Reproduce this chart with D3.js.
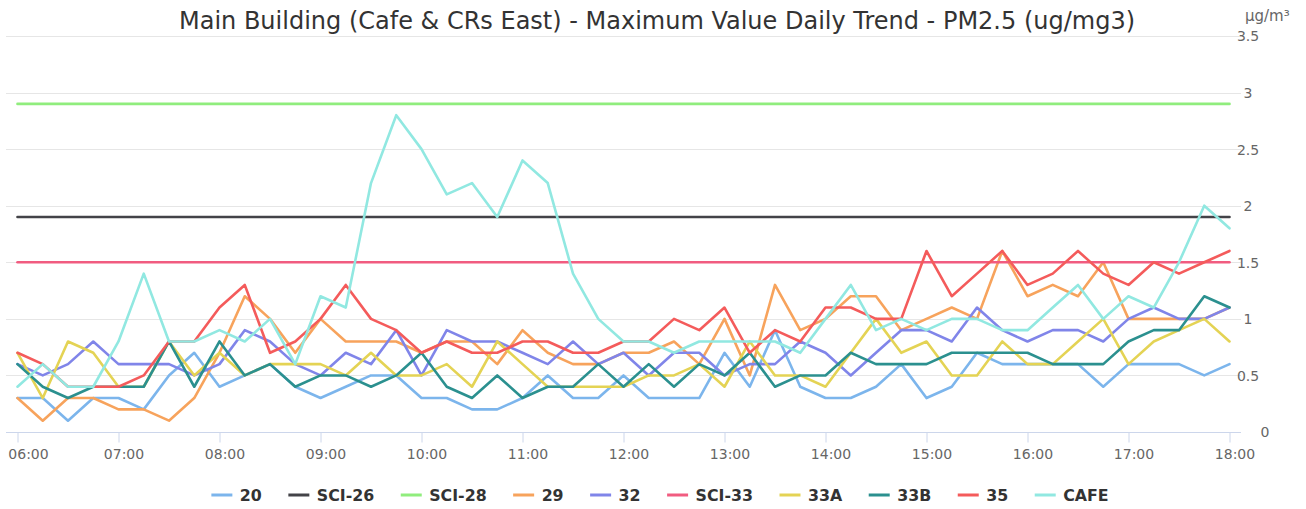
<!DOCTYPE html>
<html><head><meta charset="utf-8">
<script src="https://cdn.jsdelivr.net/npm/d3@7"></script>
<style>body{margin:0;background:#fff;} svg{display:block;font-family:"DejaVu Sans",sans-serif;}</style>
</head><body><svg id="chart" width="1306" height="509"></svg>
<script>
const times = ["06:00","06:15","06:30","06:45","07:00","07:15","07:30","07:45","08:00","08:15","08:30","08:45","09:00","09:15","09:30","09:45","10:00","10:15","10:30","10:45","11:00","11:15","11:30","11:45","12:00","12:15","12:30","12:45","13:00","13:15","13:30","13:45","14:00","14:15","14:30","14:45","15:00","15:15","15:30","15:45","16:00","16:15","16:30","16:45","17:00","17:15","17:30","17:45","18:00"];
const xTickLabels = ["06:00","07:00","08:00","09:00","10:00","11:00","12:00","13:00","14:00","15:00","16:00","17:00","18:00"];
const yTicks = [0,0.5,1,1.5,2,2.5,3,3.5];
const seriesNames = ["20","SCI-26","SCI-28","29","32","SCI-33","33A","33B","35","CAFE"];
const seriesColors = ["#7cb5ec","#434348","#90ed7d","#f7a35c","#8085e9","#f15c80","#e4d354","#2b908f","#f45b5b","#91e8e1"];

const s20 = [0.3,0.3,0.1,0.3,0.3,0.2,0.5,0.7,0.4,0.5,0.6,0.4,0.3,0.4,0.5,0.5,0.3,0.3,0.2,0.2,0.3,0.5,0.3,0.3,0.5,0.3,0.3,0.3,0.7,0.4,0.9,0.4,0.3,0.3,0.4,0.6,0.3,0.4,0.7,0.6,0.6,0.6,0.6,0.4,0.6,0.6,0.6,0.5,0.6];
const sSCI26 = [1.9,1.9,1.9,1.9,1.9,1.9,1.9,1.9,1.9,1.9,1.9,1.9,1.9,1.9,1.9,1.9,1.9,1.9,1.9,1.9,1.9,1.9,1.9,1.9,1.9,1.9,1.9,1.9,1.9,1.9,1.9,1.9,1.9,1.9,1.9,1.9,1.9,1.9,1.9,1.9,1.9,1.9,1.9,1.9,1.9,1.9,1.9,1.9,1.9];
const sSCI28 = [2.9,2.9,2.9,2.9,2.9,2.9,2.9,2.9,2.9,2.9,2.9,2.9,2.9,2.9,2.9,2.9,2.9,2.9,2.9,2.9,2.9,2.9,2.9,2.9,2.9,2.9,2.9,2.9,2.9,2.9,2.9,2.9,2.9,2.9,2.9,2.9,2.9,2.9,2.9,2.9,2.9,2.9,2.9,2.9,2.9,2.9,2.9,2.9,2.9];
const s29 = [0.3,0.1,0.3,0.3,0.2,0.2,0.1,0.3,0.7,1.2,1.0,0.7,1.0,0.8,0.8,0.8,0.7,0.8,0.8,0.6,0.9,0.7,0.6,0.6,0.7,0.7,0.8,0.6,1.0,0.5,1.3,0.9,1.0,1.2,1.2,0.9,1.0,1.1,1.0,1.6,1.2,1.3,1.2,1.5,1.0,1.0,1.0,1.0,1.1];
const s32 = [0.6,0.5,0.6,0.8,0.6,0.6,0.6,0.5,0.6,0.9,0.8,0.6,0.5,0.7,0.6,0.9,0.5,0.9,0.8,0.8,0.7,0.6,0.8,0.6,0.7,0.5,0.7,0.7,0.5,0.6,0.6,0.8,0.7,0.5,0.7,0.9,0.9,0.8,1.1,0.9,0.8,0.9,0.9,0.8,1.0,1.1,1.0,1.0,1.1];
const sSCI33 = [1.5,1.5,1.5,1.5,1.5,1.5,1.5,1.5,1.5,1.5,1.5,1.5,1.5,1.5,1.5,1.5,1.5,1.5,1.5,1.5,1.5,1.5,1.5,1.5,1.5,1.5,1.5,1.5,1.5,1.5,1.5,1.5,1.5,1.5,1.5,1.5,1.5,1.5,1.5,1.5,1.5,1.5,1.5,1.5,1.5,1.5,1.5,1.5,1.5];
const s33A = [0.7,0.3,0.8,0.7,0.4,0.4,0.8,0.5,0.7,0.5,0.6,0.6,0.6,0.5,0.7,0.5,0.5,0.6,0.4,0.8,0.6,0.4,0.4,0.4,0.4,0.5,0.5,0.6,0.4,0.8,0.5,0.5,0.4,0.7,1.0,0.7,0.8,0.5,0.5,0.8,0.6,0.6,0.8,1.0,0.6,0.8,0.9,1.0,0.8];
const s33B = [0.6,0.4,0.3,0.4,0.4,0.4,0.8,0.4,0.8,0.5,0.6,0.4,0.5,0.5,0.4,0.5,0.7,0.4,0.3,0.5,0.3,0.4,0.4,0.6,0.4,0.6,0.4,0.6,0.5,0.7,0.4,0.5,0.5,0.7,0.6,0.6,0.6,0.7,0.7,0.7,0.7,0.6,0.6,0.6,0.8,0.9,0.9,1.2,1.1];
const s35 = [0.7,0.6,0.4,0.4,0.4,0.5,0.8,0.8,1.1,1.3,0.7,0.8,1.0,1.3,1.0,0.9,0.7,0.8,0.7,0.7,0.8,0.8,0.7,0.7,0.8,0.8,1.0,0.9,1.1,0.7,0.9,0.8,1.1,1.1,1.0,1.0,1.6,1.2,1.4,1.6,1.3,1.4,1.6,1.4,1.3,1.5,1.4,1.5,1.6];
const sCAFE = [0.4,0.6,0.4,0.4,0.8,1.4,0.8,0.8,0.9,0.8,1.0,0.6,1.2,1.1,2.2,2.8,2.5,2.1,2.2,1.9,2.4,2.2,1.4,1.0,0.8,0.8,0.7,0.8,0.8,0.8,0.8,0.7,1.0,1.3,0.9,1.0,0.9,1.0,1.0,0.9,0.9,1.1,1.3,1.0,1.2,1.1,1.5,2.0,1.8];

const seriesValues = [s20,sSCI26,sSCI28,s29,s32,sSCI33,s33A,s33B,s35,sCAFE];

const svg = d3.select("#chart");
const plotLeft = 6, plotRight = 1241, plotTop = 36, plotBottom = 432;
const parse = d3.timeParse("%H:%M");

const x = d3.scaleTime().domain([parse("06:00"), parse("18:00")]).range([17.5, 1229.5]);
const y = d3.scaleLinear().domain([0, 3.5]).range([plotBottom, plotTop]);

// gridlines
svg.append("g").selectAll("line").data(yTicks.filter(d => d > 0)).join("line")
  .attr("x1", plotLeft).attr("x2", plotRight)
  .attr("y1", d => Math.round(y(d)) + 0.5).attr("y2", d => Math.round(y(d)) + 0.5)
  .attr("stroke", "#e6e6e6").attr("stroke-width", 1);

// x axis
const xAxis = d3.axisBottom(x)
  .tickValues(xTickLabels.map(parse))
  .tickFormat(d3.timeFormat("%H:%M"))
  .tickSizeInner(10).tickSizeOuter(0).tickPadding(7);
const gx = svg.append("g").attr("transform", `translate(0,${plotBottom + 0.5})`).call(xAxis);
gx.select(".domain").remove();
gx.append("line").attr("x1", plotLeft).attr("x2", plotRight).attr("stroke", "#ccd6eb");
gx.selectAll(".tick line").attr("stroke", "#ccd6eb");
gx.selectAll(".tick text").attr("fill", "#666").attr("font-size", 14).attr("font-family", "DejaVu Sans")
  .attr("x", (d, i) => i === 0 ? 10.5 : 5);

// y axis (right)
const yAxis = d3.axisRight(y).tickValues(yTicks).tickFormat(d3.format("~g")).tickSize(0).tickPadding(0);
const gy = svg.append("g").attr("transform", `translate(1248,0)`).call(yAxis);
gy.select(".domain").remove();
gy.selectAll(".tick text").attr("fill", "#666").attr("font-size", 14).attr("font-family", "DejaVu Sans")
  .attr("text-anchor", "middle").attr("dy", "0.35em")
  .attr("x", d => d === 0 ? 17 : 0);

svg.append("text").attr("x", 1245).attr("y", 21).attr("fill", "#666").attr("font-size", 15)
  .text("µg/m³");

// title
svg.append("text").attr("x", 657).attr("y", 29).attr("text-anchor", "middle")
  .attr("fill", "#333").attr("font-size", 24)
  .text("Main Building (Cafe & CRs East) - Maximum Value Daily Trend - PM2.5 (ug/mg3)");

// series
const line = d3.line().x((d, i) => x(parse(times[i]))).y(d => y(d));
const gs = svg.append("g");
seriesValues.forEach((vals, k) => {
  gs.append("path").datum(vals).attr("d", line)
    .attr("fill", "none").attr("stroke", seriesColors[k]).attr("stroke-width", 2.6)
    .attr("stroke-linejoin", "round").attr("stroke-linecap", "round");
});

// legend
const lg = svg.append("g");
const items = seriesNames.map((n, k) => {
  const g = lg.append("g");
  g.append("line").attr("x1", 0).attr("x2", 21).attr("y1", 0).attr("y2", 0)
    .attr("stroke", seriesColors[k]).attr("stroke-width", 3);
  const t = g.append("text").attr("x", 28.5).attr("y", 5.5).attr("fill", "#333")
    .attr("font-size", 15.8).attr("font-weight", "bold").text(n);
  return {g, w: 28.5 + t.node().getComputedTextLength()};
});
const gap = 26.5;
const total = d3.sum(items, d => d.w) + gap * (items.length - 1);
let cx = 660 - total / 2;
items.forEach(it => { it.g.attr("transform", `translate(${cx},495)`); cx += it.w + gap; });
</script></body></html>
